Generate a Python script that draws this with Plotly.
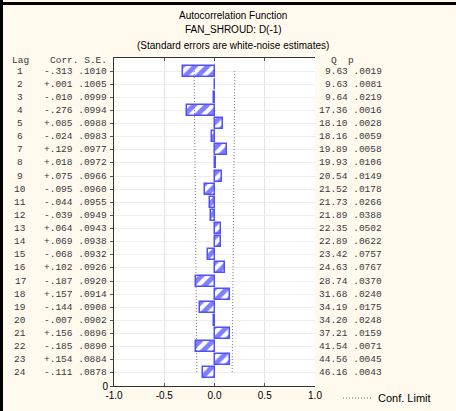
import plotly.graph_objects as go

lags = list(range(1, 25))
corr = [-0.313, 0.001, -0.010, -0.276, 0.085, -0.024, 0.129, 0.018, 0.075, -0.095,
        -0.044, -0.039, 0.064, 0.069, -0.068, 0.102, -0.187, 0.157, -0.144, -0.007,
        0.156, -0.185, 0.154, -0.111]
se = [0.1010, 0.1005, 0.0999, 0.0994, 0.0988, 0.0983, 0.0977, 0.0972, 0.0966, 0.0960,
      0.0955, 0.0949, 0.0943, 0.0938, 0.0932, 0.0926, 0.0920, 0.0914, 0.0908, 0.0902,
      0.0896, 0.0890, 0.0884, 0.0878]
q = [9.63, 9.63, 9.64, 17.36, 18.10, 18.16, 19.89, 19.93, 20.54, 21.52, 21.73, 21.89,
     22.35, 22.89, 23.42, 24.63, 28.74, 31.68, 34.19, 34.20, 37.21, 41.54, 44.56, 46.16]
p = [0.0019, 0.0081, 0.0219, 0.0016, 0.0028, 0.0059, 0.0058, 0.0106, 0.0149, 0.0178,
     0.0266, 0.0388, 0.0502, 0.0622, 0.0757, 0.0767, 0.0370, 0.0240, 0.0175, 0.0248,
     0.0159, 0.0071, 0.0045, 0.0043]
title_lines = ["Autocorrelation Function", "FAN_SHROUD: D(-1)",
               "(Standard errors are white-noise estimates)"]
xticks = [-1.0, -0.5, 0.0, 0.5, 1.0]

W, H = 456, 411
L, R, T, B = 114, 141, 58, 25
PW, PH = W - L - R, H - T - B


def px(x):
    return (x - L) / PW


def py(y):
    return 1 - (y - T) / PH


BG = "#FFF9EE"
MONO = "Liberation Mono, Courier New, monospace"
SANS = "Liberation Sans, Arial, sans-serif"
NB = "\u00a0"
TXT = "#3a3a3a"

fig = go.Figure()
fig.add_trace(go.Bar(
    x=corr, y=lags, orientation="h", width=0.84, base=0,
    marker=dict(color="white", line=dict(color="#5050ff", width=1.5),
                pattern=dict(shape="/", fgcolor="#0000ff", bgcolor="white",
                             size=9, solidity=0.55)),
    showlegend=False, hoverinfo="skip"))
lo = [-2 * s for s in se]
hi = [2 * s for s in se]
fig.add_trace(go.Scatter(x=lo, y=lags, mode="lines",
                         line=dict(color="#707070", width=1, dash="1px,2px"),
                         name="Conf. Limit", showlegend=True))
fig.add_trace(go.Scatter(x=hi, y=lags, mode="lines",
                         line=dict(color="#707070", width=1, dash="1px,2px"),
                         name="Conf. Limit", showlegend=False))

ann = []
for i, k in enumerate(lags):
    ann.append(dict(x=px(20), y=k, xref="paper", yref="y", text=str(k),
                    showarrow=False, xanchor="center", yanchor="middle",
                    font=dict(family=MONO, size=9.5, color=TXT)))
    c = corr[i]
    cs = ("+" if c >= 0 else "-") + ("%.3f" % abs(c))[1:]
    ss = ("%.4f" % se[i])[1:]
    ann.append(dict(x=px(109), y=k, xref="paper", yref="y", text=cs + NB + ss,
                    showarrow=False, xanchor="right", yanchor="middle",
                    font=dict(family=MONO, size=9.5, color=TXT)))
    qs = "%.2f" % q[i]
    ps = ("%.4f" % p[i])[1:]
    ann.append(dict(x=px(384), y=k, xref="paper", yref="y", text=qs + NB + ps,
                    showarrow=False, xanchor="right", yanchor="middle",
                    font=dict(family=MONO, size=9.5, color=TXT)))
for txt, xx, anc in [("Lag", 20, "center"), ("Corr." + NB + "S.E.", 109, "right"),
                     ("Q", 334, "center"), ("p", 351, "center")]:
    ann.append(dict(x=px(xx), y=py(60), xref="paper", yref="paper", text=txt,
                    showarrow=False, xanchor=anc, yanchor="middle",
                    font=dict(family=MONO, size=9.5, color=TXT)))
for txt, yy in zip(title_lines, [15, 30, 45]):
    ann.append(dict(x=px(233), y=py(yy), xref="paper", yref="paper", text=txt,
                    showarrow=False, xanchor="center", yanchor="middle",
                    font=dict(family=SANS, size=10, color="black")))

shapes = [
    dict(type="line", xref="paper", yref="paper", x0=px(0), x1=px(W), y0=py(3.5), y1=py(3.5),
         line=dict(color="black", width=3)),
    dict(type="line", xref="paper", yref="paper", x0=px(1.5), x1=px(1.5), y0=py(0), y1=py(H),
         line=dict(color="black", width=3)),
]

fig.update_layout(
    width=W, height=H, margin=dict(l=L, r=R, t=T, b=B, autoexpand=False),
    paper_bgcolor=BG, plot_bgcolor="white",
    annotations=ann, shapes=shapes, bargap=0,
    legend=dict(x=px(338), y=py(398), xanchor="left", yanchor="middle",
                xref="paper", yref="paper", bgcolor="rgba(0,0,0,0)",
                font=dict(family=SANS, size=11, color="black"), itemwidth=30,
                tracegroupgap=0),
    font=dict(family=SANS, size=10, color="black"),
    yaxis2=dict(overlaying="y", side="right", range=[25, 0], tickvals=lags,
                ticktext=[""] * 24, ticks="inside", ticklen=3, tickcolor="#555",
                showline=True, linecolor="#333", linewidth=1, showgrid=False,
                zeroline=False),
)
fig.update_xaxes(range=[-1, 1], tickvals=xticks, ticktext=["%.1f" % v for v in xticks],
                 showgrid=True, gridcolor="#e3e3e3", gridwidth=1, zeroline=False,
                 showline=True, linecolor="#333", linewidth=1, mirror="ticks",
                 ticks="inside", ticklen=3, tickcolor="#555",
                 tickfont=dict(family=SANS, size=10, color="black"))
fig.layout.yaxis.update(range=[25, 0], tickvals=lags + [25], ticktext=[""] * 24 + ["0"],
                        showgrid=True, gridcolor="#eeeeee", gridwidth=1, zeroline=False,
                        showline=True, linecolor="#333", linewidth=1,
                        ticks="outside", ticklen=3, tickcolor="#555",
                        tickfont=dict(family=SANS, size=10, color="black"))

fig.write_html("out.html")
